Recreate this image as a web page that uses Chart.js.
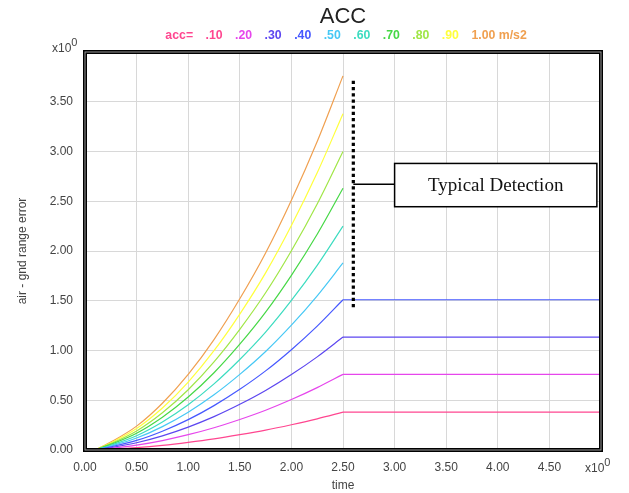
<!DOCTYPE html>
<html>
<head>
<meta charset="utf-8">
<title>ACC</title>
<script src="https://cdn.jsdelivr.net/npm/chart.js@4/dist/chart.umd.min.js"></script>
<style>
  html, body { margin: 0; padding: 0; background: #fff; }
  #wrap { width: 629px; height: 493px; }
</style>
</head>
<body>
<div id="wrap"><canvas id="accChart" width="629" height="493"></canvas></div>
<script>
// time samples (s) for the rising part, and end of run
const times = [0.1, 0.25, 0.5, 0.75, 1.0, 1.25, 1.5, 1.75, 2.0, 2.25, 2.5];
const tEnd = 5.0;

const accLabels = ['.10', '.20', '.30', '.40', '.50', '.60', '.70', '.80', '.90', '1.00 m/s2'];
const accColors = ['#ff4690', '#e646ec', '#5c46f0', '#4658ff', '#46c8f5', '#3cdcc0', '#46d846', '#a0e646', '#ffff3c', '#f0a050'];

// air - gnd range error, one array per acceleration
const err10  = [0, 0.008, 0.024, 0.047, 0.077, 0.112, 0.154, 0.200, 0.254, 0.313, 0.38];
const err20  = [0, 0.016, 0.049, 0.095, 0.154, 0.224, 0.307, 0.400, 0.507, 0.627, 0.76];
const err30  = [0, 0.024, 0.073, 0.142, 0.230, 0.335, 0.459, 0.598, 0.758, 0.936, 1.135];
const err40  = [0, 0.032, 0.096, 0.189, 0.305, 0.446, 0.610, 0.795, 1.008, 1.245, 1.51];
const err50  = [0, 0.040, 0.120, 0.235, 0.380, 0.555, 0.760, 0.990, 1.255, 1.550, 1.88];
const err60  = [0, 0.048, 0.144, 0.282, 0.455, 0.665, 0.910, 1.185, 1.503, 1.856, 2.25];
const err70  = [0, 0.056, 0.168, 0.329, 0.532, 0.776, 1.063, 1.385, 1.755, 2.168, 2.63];
const err80  = [0, 0.064, 0.192, 0.375, 0.606, 0.886, 1.213, 1.580, 2.003, 2.473, 3.00];
const err90  = [0, 0.072, 0.216, 0.422, 0.683, 0.998, 1.366, 1.780, 2.256, 2.786, 3.38];
const err100 = [0, 0.080, 0.240, 0.470, 0.760, 1.110, 1.520, 1.980, 2.510, 3.100, 3.76];

const allErr = [err10, err20, err30, err40, err50, err60, err70, err80, err90, err100];
// the four lowest runs hold their value to the end
const holdCount = 4;

const xTicks = [0, 0.5, 1, 1.5, 2, 2.5, 3, 3.5, 4, 4.5, 5];
const yTicks = [0, 0.5, 1, 1.5, 2, 2.5, 3, 3.5, 4];

const datasets = [];
allErr.forEach((vals, i) => {
    datasets.push({
        label: accLabels[i],
        data: vals.map((v, k) => ({ x: times[k], y: v })),
        borderColor: accColors[i],
        borderWidth: 1.2,
        pointRadius: 0,
        cubicInterpolationMode: 'monotone',
        fill: false
    });
    if (i < holdCount) {
        const last = vals[vals.length - 1];
        datasets.push({
            label: accLabels[i] + ' hold',
            data: [{ x: times[times.length - 1], y: last }, { x: tEnd, y: last }],
            borderColor: accColors[i],
            borderWidth: 1.2,
            pointRadius: 0,
            tension: 0,
            fill: false
        });
    }
});

// frame, exponent marks and the "Typical Detection" callout
const extras = {
    id: 'extras',
    afterDatasetsDraw(chart) {
        const c = chart.ctx;
        const a = chart.chartArea;
        const xs = chart.scales.x, ys = chart.scales.y;
        c.save();
        c.strokeStyle = '#000';
        c.lineWidth = 4;
        c.strokeRect(a.left, a.top, a.right - a.left, a.bottom - a.top);
        c.strokeStyle = '#999';
        c.lineWidth = 1;
        c.strokeRect(a.left, a.top, a.right - a.left, a.bottom - a.top);

        // dotted detection line
        const dx = xs.getPixelForValue(2.6);
        c.strokeStyle = '#000';
        c.lineWidth = 3.2;
        c.setLineDash([3.2, 3]);
        c.beginPath();
        c.moveTo(dx, ys.getPixelForValue(3.71));
        c.lineTo(dx, ys.getPixelForValue(1.43));
        c.stroke();
        c.setLineDash([]);

        // callout box
        const bx0 = xs.getPixelForValue(3.0), bx1 = xs.getPixelForValue(4.96);
        const by0 = ys.getPixelForValue(2.88), by1 = ys.getPixelForValue(2.445);
        const cy = ys.getPixelForValue(2.67);
        c.lineWidth = 1.5;
        c.beginPath();
        c.moveTo(dx, cy);
        c.lineTo(bx0, cy);
        c.stroke();
        c.fillStyle = '#fff';
        c.fillRect(bx0, by0, bx1 - bx0, by1 - by0);
        c.strokeRect(bx0, by0, bx1 - bx0, by1 - by0);
        c.fillStyle = '#111';
        c.font = '19px "Liberation Serif", "Times New Roman", serif';
        c.textAlign = 'center';
        c.textBaseline = 'middle';
        c.fillText('Typical Detection', (bx0 + bx1) / 2, (by0 + by1) / 2 + 1);

        // x10^0 exponent labels
        function expo(x, y) {
            c.fillStyle = '#444';
            c.textBaseline = 'alphabetic';
            c.textAlign = 'left';
            c.font = '12px "Liberation Sans", Arial, sans-serif';
            c.fillText('x10', x, y);
            const w = c.measureText('x10').width;
            c.font = '11px "Liberation Sans", Arial, sans-serif';
            c.fillText('0', x + w, y - 6);
        }
        expo(52, 52);
        expo(585, 472);
        c.restore();
    }
};

const ctx = document.getElementById('accChart');
new Chart(ctx, {
    type: 'line',
    data: { datasets: datasets },
    options: {
        responsive: false,
        animation: false,
        layout: { padding: { left: 0, right: 28, top: 0, bottom: 0 } },
        plugins: {
            title: {
                display: true,
                text: 'ACC',
                fullSize: false,
                color: '#222',
                font: { family: '"Liberation Sans", Arial, sans-serif', size: 22, weight: 'normal' },
                padding: { top: 4, bottom: -7 }
            },
            legend: {
                display: true,
                position: 'top',
                fullSize: false,
                labels: {
                    boxWidth: 0,
                    boxHeight: 0,
                    padding: 6.3,
                    font: { family: '"Liberation Sans", Arial, sans-serif', size: 12.3, weight: 'bold' },
                    generateLabels: function(chart) {
                        const blank = 'rgba(0,0,0,0)';
                        const items = [{ text: 'acc=', fontColor: '#ff4690', fillStyle: blank, strokeStyle: blank, lineWidth: 0, hidden: false, datasetIndex: -1 }];
                        chart.data.datasets.forEach((ds, i) => {
                            if (ds.label.indexOf('hold') >= 0) return;
                            items.push({ text: ds.label, fontColor: ds.borderColor, fillStyle: blank, strokeStyle: blank, lineWidth: 0, hidden: false, datasetIndex: i });
                        });
                        return items;
                    }
                },
                onClick: null
            },
            tooltip: { enabled: false }
        },
        scales: {
            x: {
                type: 'linear',
                min: 0,
                max: 5,
                afterBuildTicks: function(scale) { scale.ticks = xTicks.map(v => ({ value: v })); },
                afterFit: function(scale) { scale.height = 43; },
                grid: { color: '#d8d8d8', lineWidth: 1, drawTicks: false },
                border: { display: false },
                ticks: {
                    padding: 10,
                    color: '#444',
                    font: { family: '"Liberation Sans", Arial, sans-serif', size: 12 },
                    callback: v => (v >= 5 ? '' : v.toFixed(2))
                },
                title: {
                    display: true,
                    text: 'time',
                    color: '#444',
                    font: { family: '"Liberation Sans", Arial, sans-serif', size: 12 },
                    padding: { top: 0, bottom: 0 }
                }
            },
            y: {
                type: 'linear',
                min: 0,
                max: 4,
                afterBuildTicks: function(scale) { scale.ticks = yTicks.map(v => ({ value: v })); },
                afterFit: function(scale) { scale.width = 85; },
                grid: { color: '#d8d8d8', lineWidth: 1, drawTicks: false },
                border: { display: false },
                ticks: {
                    padding: 12,
                    color: '#444',
                    font: { family: '"Liberation Sans", Arial, sans-serif', size: 12 },
                    callback: v => (v >= 4 ? '' : v.toFixed(2))
                },
                title: {
                    display: true,
                    text: 'air - gnd range error',
                    color: '#444',
                    font: { family: '"Liberation Sans", Arial, sans-serif', size: 12 },
                    padding: { top: 15, bottom: 0 }
                }
            }
        }
    },
    plugins: [extras]
});
</script>
</body>
</html>
